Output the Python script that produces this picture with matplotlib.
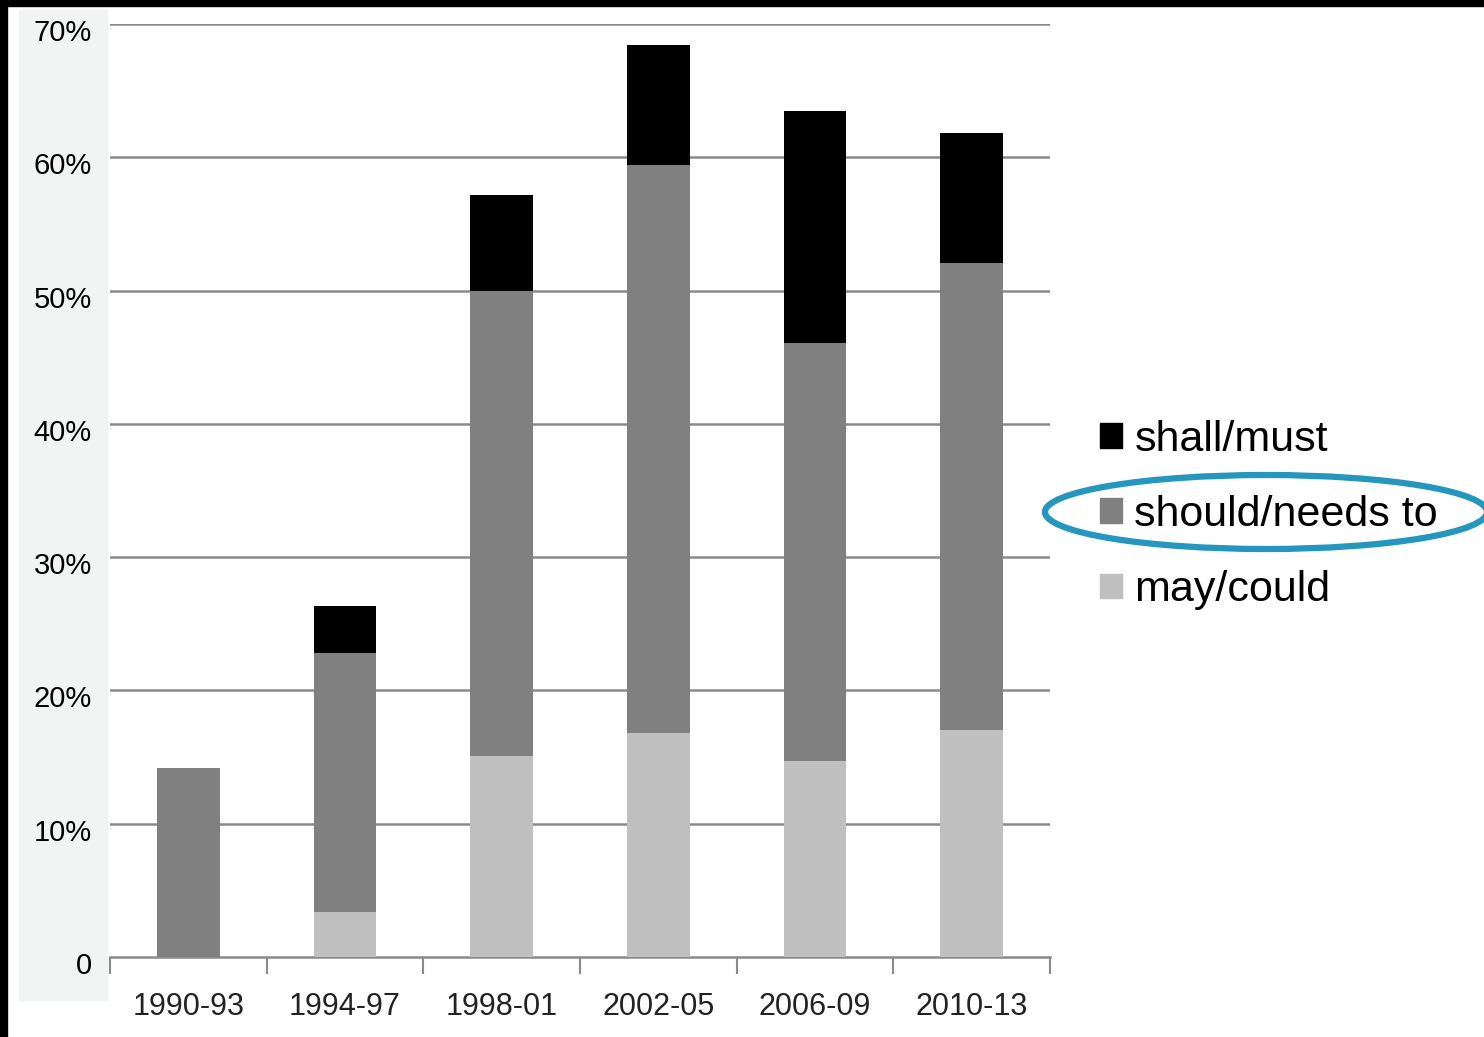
import matplotlib.pyplot as plt
import matplotlib.patches as mpatches
import matplotlib.transforms as mtransforms
import numpy as np

periods = ['1990-93', '1994-97', '1998-01', '2002-05', '2006-09', '2010-13']
may_could = [0.0, 3.4, 15.1, 16.8, 14.7, 17.0]
should_needs = [14.2, 19.4, 34.9, 42.6, 31.4, 35.1]
shall_must = [0.0, 3.5, 7.2, 9.0, 17.4, 9.7]
legend_labels = ['shall/must', 'should/needs to', 'may/could']
yticks = [0, 10, 20, 30, 40, 50, 60, 70]
ytick_labels = ['0', '10%', '20%', '30%', '40%', '50%', '60%', '70%']

c_shall = '#000000'
c_should = '#808080'
c_may = '#c0c0c0'
narrow = ['Liberation Sans Narrow', 'Liberation Sans', 'DejaVu Sans']

fig = plt.figure(figsize=(14.84, 10.37), dpi=100)
W, H = 1484, 1037

# black frame strips and grey label panel
fig.patches.append(mpatches.Rectangle((0, 1 - 6 / H), 1, 6 / H, transform=fig.transFigure, color='black', zorder=-2))
fig.patches.append(mpatches.Rectangle((0, 0), 7 / W, 1, transform=fig.transFigure, color='black', zorder=-2))
fig.patches.append(mpatches.Rectangle((19 / W, 1 - 1000 / H), 88 / W, 990 / H,
                                      transform=fig.transFigure, color='#f2f4f3', zorder=-2))

ax = fig.add_axes([110 / W, 1 - 957 / H, 940 / W, 933 / H])
ax.set_facecolor('none')
x = np.arange(len(periods))
bw = 0.40
may = np.array(may_could)
should = np.array(should_needs)
shall = np.array(shall_must)
ax.bar(x, may, bw, color=c_may, zorder=3)
ax.bar(x, should, bw, bottom=may, color=c_should, zorder=3)
ax.bar(x, shall, bw, bottom=may + should, color=c_shall, zorder=3)

ax.set_xlim(-0.5, len(periods) - 0.5)
ax.set_ylim(0, 70)
for y in yticks[1:]:
    ax.axhline(y, color='#8a8a8a', lw=1.8, zorder=1)

for s in ['top', 'right', 'left']:
    ax.spines[s].set_visible(False)
ax.spines['bottom'].set_color('#8a8a8a')
ax.spines['bottom'].set_linewidth(1.8)

ax.set_yticks(yticks)
ax.set_yticklabels(ytick_labels, fontsize=21, family=narrow)
ax.tick_params(axis='y', length=0, pad=13)
shift = mtransforms.ScaledTranslation(0, -6 / 100, fig.dpi_scale_trans)
for lab in ax.get_yticklabels():
    lab.set_transform(lab.get_transform() + shift)

ax.set_xticks(x)
ax.set_xticklabels(periods, fontsize=22, family=narrow, color='#222222')
ax.tick_params(axis='x', length=0, pad=25)
ax.set_xticks(np.arange(-0.5, len(periods)), minor=True)
ax.tick_params(axis='x', which='minor', length=12, width=1.5, color='#8a8a8a', direction='out')

handles = [mpatches.Patch(color=c) for c in [c_shall, c_should, c_may]]
fig.legend(handles, legend_labels, loc='center left', bbox_to_anchor=(1100 / W, 1 - 515 / H),
           frameon=False, handlelength=0.5, handleheight=0.5, borderpad=0, borderaxespad=0,
           handletextpad=0.3, labelspacing=0.82, prop={'family': 'Liberation Sans', 'size': 31})

ell = mpatches.Ellipse((1266 / W, 1 - 512 / H), 442 / W, 74 / H, transform=fig.transFigure,
                       fill=False, edgecolor='#2596be', lw=4.5, zorder=5)
fig.patches.append(ell)

fig.savefig('out.png', dpi=100)
